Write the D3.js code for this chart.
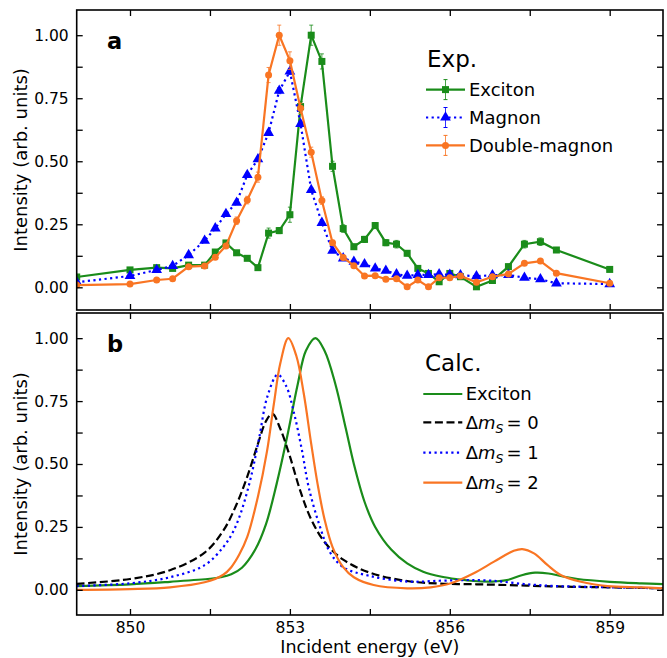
<!DOCTYPE html>
<html><head><meta charset="utf-8">
<script src="https://cdn.jsdelivr.net/npm/d3@7"></script>
<style>body{margin:0;background:#fff}svg{display:block;font-family:"DejaVu Sans",sans-serif}</style>
</head><body>
<svg id="c" width="667" height="658"></svg>
<script>
// ---------- Experimental data (panel a) ----------
const expEnergy = [849.0,850.0,850.5,850.8,851.1,851.4,851.6,851.8,852.0,852.2,852.4,852.6,852.8,853.0,853.2,853.4,853.6,853.8,854.0,854.2,854.4,854.6,854.8,855.0,855.2,855.4,855.6,855.8,856.0,856.2,856.5,856.8,857.1,857.4,857.7,858.0,859.0];
const expExciton = [0.041,0.069,0.078,0.075,0.088,0.088,0.14,0.176,0.137,0.115,0.078,0.215,0.225,0.288,0.717,1.0,0.896,0.48,0.233,0.161,0.19,0.245,0.177,0.171,0.135,0.075,0.055,0.022,0.055,0.042,0.002,0.027,0.082,0.171,0.181,0.148,0.071];
const errExciton = [0.005,0.005,0.005,0.005,0.005,0.005,0.008,0.008,0.006,0.006,0.006,0.02,0.012,0.03,0.02,0.04,0.03,0.02,0.015,0.01,0.012,0.012,0.012,0.015,0.01,0.008,0.006,0.006,0.006,0.006,0.006,0.006,0.01,0.015,0.015,0.01,0.008];
const expMagnon = [0.02,0.045,0.069,0.085,0.128,0.185,0.234,0.291,0.336,0.446,0.508,0.613,0.78,0.856,0.648,0.386,0.256,0.145,0.115,0.102,0.092,0.075,0.066,0.052,0.046,0.049,0.049,0.052,0.05,0.048,0.044,0.048,0.049,0.038,0.032,0.016,0.013];
const errMagnon = [0.004,0.004,0.004,0.004,0.005,0.005,0.006,0.006,0.006,0.008,0.008,0.01,0.012,0.012,0.01,0.008,0.006,0.005,0.005,0.005,0.004,0.004,0.004,0.004,0.004,0.004,0.004,0.004,0.004,0.004,0.004,0.004,0.004,0.004,0.004,0.004,0.004];
const expDouble = [0.009,0.013,0.029,0.034,0.082,0.085,0.119,0.164,0.264,0.346,0.437,0.842,1.0,0.899,0.71,0.536,0.344,0.177,0.118,0.086,0.045,0.046,0.032,0.034,0.002,0.029,0.002,0.038,0.038,0.045,0.02,0.042,0.053,0.095,0.104,0.056,0.016];
const errDouble = [0.005,0.005,0.005,0.005,0.006,0.006,0.008,0.01,0.015,0.015,0.02,0.03,0.04,0.035,0.02,0.02,0.015,0.01,0.008,0.006,0.006,0.006,0.006,0.006,0.006,0.006,0.006,0.006,0.006,0.006,0.006,0.006,0.006,0.008,0.008,0.006,0.006];

// ---------- Calculated spectra (panel b) ----------
const calcExcitonE = [849.0,850.0,850.75,851.5,851.7,851.9,852.1,852.35,852.55,852.75,852.95,853.15,853.3,853.48,853.65,853.85,854.05,854.2,854.4,854.6,854.9,855.2,855.5,855.85,856.15,856.45,856.8,857.1,857.35,857.6,857.85,858.1,858.4,859.0,859.6,860.0];
const calcExcitonI = [0.015,0.022,0.032,0.044,0.05,0.062,0.088,0.16,0.26,0.42,0.61,0.82,0.95,1.0,0.95,0.82,0.64,0.5,0.35,0.25,0.16,0.105,0.072,0.052,0.042,0.035,0.033,0.04,0.058,0.068,0.065,0.054,0.043,0.032,0.026,0.023];
const calcDm0E = [849.0,850.0,850.75,851.4,851.75,852.0,852.2,852.4,852.55,852.67,852.82,853.0,853.2,853.4,853.65,854.0,854.5,855.2,855.8,856.5,857.1,857.7,858.3,859.0,860.0];
const calcDm0I = [0.024,0.043,0.078,0.148,0.235,0.34,0.45,0.58,0.67,0.70,0.64,0.53,0.39,0.28,0.19,0.12,0.068,0.035,0.025,0.022,0.019,0.015,0.012,0.01,0.006];
const calcDm1E = [849.0,850.0,850.75,851.4,851.75,851.92,852.07,852.26,852.42,852.58,852.77,852.93,853.08,853.23,853.35,853.55,853.75,854.0,854.5,855.2,855.8,856.3,856.8,857.4,858.0,859.0,860.0];
const calcDm1I = [0.015,0.026,0.05,0.098,0.17,0.225,0.3,0.44,0.6,0.77,0.855,0.81,0.7,0.55,0.41,0.26,0.15,0.09,0.055,0.033,0.036,0.039,0.036,0.023,0.015,0.01,0.006];
const calcDm2E = [849.0,850.0,850.75,851.4,851.75,851.9,852.05,852.2,852.4,852.57,852.7,852.82,852.97,853.12,853.26,853.4,853.52,853.65,853.8,854.0,854.2,854.57,855.2,855.64,856.02,856.45,856.83,857.2,857.36,857.58,857.83,858.08,858.46,858.96,859.59,860.0];
const calcDm2I = [0.0,0.003,0.01,0.03,0.06,0.09,0.14,0.21,0.37,0.55,0.74,0.9,1.0,0.93,0.78,0.58,0.42,0.28,0.17,0.09,0.05,0.019,0.006,0.01,0.026,0.066,0.112,0.155,0.162,0.145,0.099,0.059,0.032,0.015,0.01,0.006];

const xTicks = [850,851.5,853,854.5,856,857.5,859];
const xTickLabels = [850,853,856,859];
const yTicks = [0,0.125,0.25,0.375,0.5,0.625,0.75,0.875,1.0];
const yTickLabels = [0,0.25,0.5,0.75,1.0];

const GREEN = "#1a8c1a", BLUE = "#0000ff", ORANGE = "#f97523", BLACK = "#000";

const svg = d3.select("#c");
const L = 76.7, R = 663;
const x = d3.scaleLinear().domain([849,860]).range([L,R]);
const panels = [
  {top:10, bottom:310, y:d3.scaleLinear().domain([-0.09,1.1]).range([310,10]), label:"a"},
  {top:313, bottom:615, y:d3.scaleLinear().domain([-0.1,1.1]).range([615,313]), label:"b"}
];

panels.forEach((p,i)=>{
  const g = svg.append("g");
  const cid = "clip"+i;
  svg.append("clipPath").attr("id",cid).append("rect").attr("x",L).attr("y",p.top).attr("width",R-L).attr("height",p.bottom-p.top);
  p.g = g; p.plot = g.append("g").attr("clip-path",`url(#${cid})`);
  const fmtY = d => yTickLabels.some(v=>Math.abs(v-d)<1e-9) ? d3.format(".2f")(d) : "";
  const fmtX = d => (i===1 && xTickLabels.includes(d)) ? d3.format("d")(d) : "";
  const ax = [
    g.append("g").attr("transform",`translate(${L},0)`).call(d3.axisLeft(p.y).tickValues(yTicks).tickSizeInner(-6).tickSizeOuter(0).tickPadding(8).tickFormat(fmtY)),
    g.append("g").attr("transform",`translate(${R},0)`).call(d3.axisRight(p.y).tickValues(yTicks).tickSizeInner(-6).tickSizeOuter(0).tickFormat("")),
    g.append("g").attr("transform",`translate(0,${p.bottom})`).call(d3.axisBottom(x).tickValues(xTicks).tickSizeInner(-6).tickSizeOuter(0).tickPadding(6.5).tickFormat(fmtX)),
    g.append("g").attr("transform",`translate(0,${p.top})`).call(d3.axisTop(x).tickValues(xTicks).tickSizeInner(-6).tickSizeOuter(0).tickFormat(""))
  ];
  ax.forEach(a=>{
    a.select(".domain").remove();
    a.selectAll("line").attr("stroke","#000").attr("stroke-width",1.3);
    a.selectAll("text").attr("font-size",15.5).attr("fill","#000").attr("font-family","DejaVu Sans");
  });
  g.append("rect").attr("x",L).attr("y",p.top).attr("width",R-L).attr("height",p.bottom-p.top)
    .attr("fill","none").attr("stroke","#000").attr("stroke-width",1.6);
  g.append("text").attr("transform",`translate(27,${(p.top+p.bottom)/2}) rotate(-90)`)
    .attr("text-anchor","middle").attr("font-size",18).text("Intensity (arb. units)");
  g.append("text").attr("x",107).attr("y",i===0?49:351.5).attr("font-size",22.5).attr("font-weight","bold").text(p.label);
});

svg.append("text").attr("x",(L+R)/2).attr("y",653).attr("text-anchor","middle").attr("font-size",17.5).text("Incident energy (eV)");

// ---------- Panel a ----------
const pa = panels[0];
function marker(sel, type, size){
  if(type==="square") return sel.append("rect").attr("x",-size/2).attr("y",-size/2).attr("width",size).attr("height",size);
  if(type==="circle") return sel.append("circle").attr("r",size/2);
  if(type==="tri") return sel.append("path").attr("d",d3.symbol(d3.symbolTriangle, size*size*0.5)());
}
const expSeries = [
  {name:"Exciton", vals:expExciton, err:errExciton, color:GREEN, dash:null, m:"square", ms:7},
  {name:"Magnon", vals:expMagnon, err:errMagnon, color:BLUE, dash:"2.2,3.4", m:"tri", ms:10},
  {name:"Double-magnon", vals:expDouble, err:errDouble, color:ORANGE, dash:null, m:"circle", ms:7}
];
expSeries.forEach(s=>{
  const pts = expEnergy.map((e,k)=>({e, v:s.vals[k], er:s.err[k]}));
  const g = pa.plot.append("g");
  const eb = g.selectAll(".eb").data(pts).join("g");
  eb.append("line").attr("x1",d=>x(d.e)).attr("x2",d=>x(d.e)).attr("y1",d=>pa.y(d.v-d.er)).attr("y2",d=>pa.y(d.v+d.er))
    .attr("stroke",s.color).attr("stroke-width",1).attr("opacity",0.8);
  [-1,1].forEach(sg=>eb.append("line").attr("x1",d=>x(d.e)-2).attr("x2",d=>x(d.e)+2)
    .attr("y1",d=>pa.y(d.v+sg*d.er)).attr("y2",d=>pa.y(d.v+sg*d.er)).attr("stroke",s.color).attr("stroke-width",1).attr("opacity",0.8));
  g.append("path").datum(pts).attr("fill","none").attr("stroke",s.color).attr("stroke-width",2.2)
    .attr("stroke-dasharray",s.dash).attr("d",d3.line().x(d=>x(d.e)).y(d=>pa.y(d.v)));
  pts.forEach(d=>{
    const mg = g.append("g").attr("transform",`translate(${x(d.e)},${pa.y(d.v)})`);
    marker(mg,s.m,s.ms).attr("fill",s.color);
  });
});
const lga = svg.append("g");
lga.append("text").attr("x",427).attr("y",67).attr("font-size",23).text("Exp.");
expSeries.forEach((s,k)=>{
  const yy = 89.6 + k*27.9;
  lga.append("line").attr("x1",426).attr("x2",465).attr("y1",yy).attr("y2",yy).attr("stroke",s.color).attr("stroke-width",2.2).attr("stroke-dasharray",s.dash);
  lga.append("line").attr("x1",445.5).attr("x2",445.5).attr("y1",yy-10).attr("y2",yy+10).attr("stroke",s.color).attr("stroke-width",1).attr("opacity",0.8);
  [-10,10].forEach(o=>lga.append("line").attr("x1",443.5).attr("x2",447.5).attr("y1",yy+o).attr("y2",yy+o).attr("stroke",s.color).attr("stroke-width",1));
  const mg = lga.append("g").attr("transform",`translate(445.5,${yy})`);
  marker(mg,s.m,s.ms).attr("fill",s.color);
  lga.append("text").attr("x",469).attr("y",yy+6.6).attr("font-size",18).text(s.name);
});

// ---------- Panel b ----------
const pb = panels[1];
const calcSeries = [
  {E:calcExcitonE, I:calcExcitonI, color:GREEN, dash:null, sub:null},
  {E:calcDm0E, I:calcDm0I, color:BLACK, dash:"8,3.6", sub:"0"},
  {E:calcDm1E, I:calcDm1I, color:BLUE, dash:"2.2,3.4", sub:"1"},
  {E:calcDm2E, I:calcDm2I, color:ORANGE, dash:null, sub:"2"}
];
const lineB = d3.line().x(d=>x(d[0])).y(d=>pb.y(d[1])).curve(d3.curveCatmullRom.alpha(0.5));
calcSeries.forEach(s=>{
  pb.plot.append("path").datum(s.E.map((e,k)=>[e,s.I[k]])).attr("fill","none").attr("stroke",s.color)
    .attr("stroke-width",2.2).attr("stroke-dasharray",s.dash).attr("d",lineB);
});
const lgb = svg.append("g");
lgb.append("text").attr("x",425).attr("y",371).attr("font-size",23).text("Calc.");
const rowsB = [394, 422.3, 452.7, 482.7];
calcSeries.forEach((s,k)=>{
  const yy = rowsB[k];
  lgb.append("line").attr("x1",423.3).attr("x2",462.3).attr("y1",yy).attr("y2",yy).attr("stroke",s.color).attr("stroke-width",2.2).attr("stroke-dasharray",s.dash);
  const t = lgb.append("text").attr("x",465.7).attr("y",yy+6.3).attr("font-size",18);
  if(!s.sub){ t.text("Exciton"); }
  else {
    t.append("tspan").text("Δ");
    t.append("tspan").attr("font-style","italic").text("m");
    t.append("tspan").attr("font-style","italic").attr("font-size",12.5).attr("dy",4).text("S");
    t.append("tspan").attr("dy",-4).attr("dx",3).text("= "+s.sub);
  }
});
</script>
</body></html>
